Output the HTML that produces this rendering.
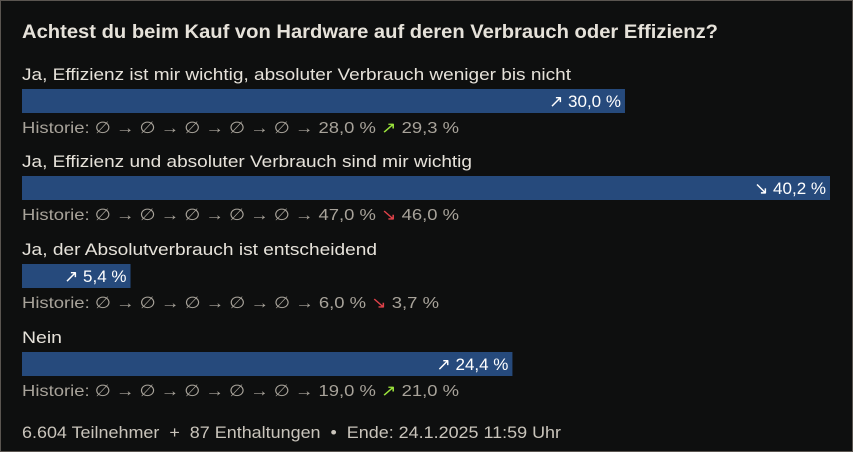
<!DOCTYPE html>
<html><head><meta charset="utf-8"><style>
html,body{margin:0;padding:0;background:#0e0f0f;}
svg{display:block;font-family:"Liberation Sans",sans-serif;}
</style></head><body>
<svg id="c" width="853" height="452">
<rect x="0.5" y="0.5" width="852" height="451" fill="#0e0f0f" stroke="#5a5550"/>
<text x="22" y="38" font-size="19" font-weight="bold" fill="#e6e2da" textLength="696" lengthAdjust="spacingAndGlyphs">Achtest du beim Kauf von Hardware auf deren Verbrauch oder Effizienz?</text>
<text x="22" y="438" font-size="17" fill="#c9c4bb" textLength="539" lengthAdjust="spacingAndGlyphs" style="white-space:pre" xml:space="preserve">6.604 Teilnehmer  +  87 Enthaltungen  •  Ende: 24.1.2025 11:59 Uhr</text>
</svg>
<script>
const categories=["Ja, Effizienz ist mir wichtig, absoluter Verbrauch weniger bis nicht","Ja, Effizienz und absoluter Verbrauch sind mir wichtig","Ja, der Absolutverbrauch ist entscheidend","Nein"];
const values=[30.0,40.2,5.4,24.4];
const previous=[28.0,47.0,6.0,19.0];
const historyPrev=[29.3,46.0,3.7,21.0];
const trend=["up","down","up","up"];
const histTrend=["up","down","down","up"];
const labelW=[549,450,355,40];
const histW=[437,437,417,437];
const svg=document.getElementById('c');
const NS='http://www.w3.org/2000/svg';
const x0=22,fullW=808,maxV=Math.max(...values);
const xs=v=>v/maxV*fullW;
const fmt=v=>v.toFixed(1).replace('.',',')+' %';
function el(tag,attrs){const e=document.createElementNS(NS,tag);for(const k in attrs)e.setAttribute(k,attrs[k]);svg.appendChild(e);return e;}
categories.forEach((c,i)=>{
  const top=[66,153,241,329][i];
  const l=el('text',{x:x0,y:top+14,'font-size':17,fill:'#e6e2da',textLength:labelW[i],lengthAdjust:'spacingAndGlyphs'});
  l.textContent=c;
  
  
  const w=xs(values[i]);
  const b=el('rect',{x:x0,y:top+23,width:w,height:24,fill:'#264a7c'});
  
  
  const v=el('text',{x:x0+w-4,y:top+41,'font-size':17,fill:'#ffffff','text-anchor':'end'});
  v.textContent=(trend[i]==='up'?'↗':'↘')+' '+fmt(values[i]);
  
  
  const h=el('text',{x:x0,y:top+67,'font-size':16,fill:'#a8a39a',textLength:histW[i],lengthAdjust:'spacingAndGlyphs'});
  
  
  const s1=document.createElementNS(NS,'tspan');
  s1.textContent='Historie: ∅ → ∅ → ∅ → ∅ → ∅ → '+fmt(previous[i])+' ';
  h.appendChild(s1);
  const s2=document.createElementNS(NS,'tspan');
  s2.setAttribute('fill',histTrend[i]==='up'?'#9be33c':'#e0424a');
  s2.textContent=histTrend[i]==='up'?'↗':'↘';
  h.appendChild(s2);
  const s3=document.createElementNS(NS,'tspan');
  s3.textContent=' '+fmt(historyPrev[i]);
  h.appendChild(s3);
});
</script>
</body></html>
